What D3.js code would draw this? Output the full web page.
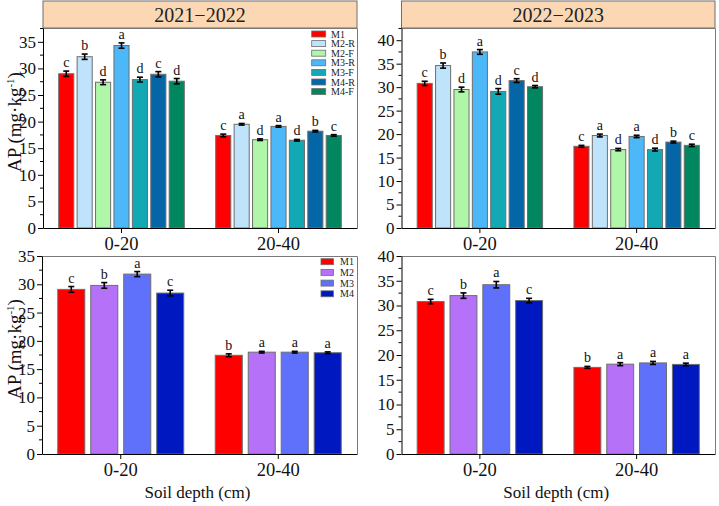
<!DOCTYPE html>
<html>
<head>
<meta charset="utf-8">
<script src="https://cdn.jsdelivr.net/npm/d3@7"></script>
<style>
  body { margin: 0; background: #fff; }
  svg { display: block; }
  svg text { font-family: "Liberation Serif", "Times New Roman", serif; font-weight: normal; }
</style>
</head>
<body>
<svg id="chart" width="719" height="506"></svg>
<script>
// categories
const depths = ["0-20", "20-40"];
const seriesSplit = ["M1", "M2-R", "M2-F", "M3-R", "M3-F", "M4-R", "M4-F"];
const seriesMain = ["M1", "M2", "M3", "M4"];
const colorsSplit = ["#ff0000", "#bfe3fb", "#b0f6a8", "#4db8f8", "#12a8b4", "#0466a6", "#00875f"];
const colorsMain = ["#ff0000", "#b571f7", "#5f70fb", "#0018c0"];

// 2021-2022, split treatments (rows = depths)
const ap2122Split = [[29.0, 32.2, 27.4, 34.3, 27.9, 28.9, 27.6], [17.4, 19.5, 16.6, 19.1, 16.5, 18.2, 17.4]];
const err2122Split = [[0.5, 0.5, 0.45, 0.5, 0.45, 0.5, 0.5], [0.25, 0.15, 0.15, 0.15, 0.15, 0.15, 0.15]];
const sig2122Split = [["c", "b", "d", "a", "d", "c", "d"], ["c", "a", "d", "a", "d", "b", "c"]];

// 2022-2023, split treatments
const ap2223Split = [[30.8, 34.6, 29.5, 37.5, 29.1, 31.4, 30.1], [17.4, 19.7, 16.7, 19.5, 16.7, 18.3, 17.6]];
const err2223Split = [[0.45, 0.55, 0.5, 0.5, 0.6, 0.4, 0.25], [0.2, 0.3, 0.25, 0.25, 0.3, 0.2, 0.25]];
const sig2223Split = [["c", "b", "d", "a", "d", "c", "d"], ["c", "a", "d", "a", "d", "b", "c"]];

// 2021-2022, main treatments
const ap2122Main = [[29.1, 29.8, 31.8, 28.45], [17.45, 18.0, 18.0, 17.9]];
const err2122Main = [[0.5, 0.5, 0.45, 0.5], [0.25, 0.15, 0.15, 0.15]];
const sig2122Main = [["c", "b", "a", "c"], ["b", "a", "a", "a"]];

// 2022-2023, main treatments
const ap2223Main = [[30.8, 32.0, 34.2, 31.0], [17.5, 18.15, 18.4, 18.1]];
const err2223Main = [[0.45, 0.55, 0.65, 0.45], [0.2, 0.3, 0.3, 0.25]];
const sig2223Main = [["c", "b", "a", "c"], ["b", "a", "a", "a"]];

const yTicksA = [0, 5, 10, 15, 20, 25, 30, 35];
const yTicksB = [0, 5, 10, 15, 20, 25, 30, 35, 40];

const panels = [
  { x0: 43, x1: 357, y0: 28, y1: 228, yMax: 37.6, ticks: yTicksA, title: "2021\u22122022",
    series: seriesSplit, colors: colorsSplit, vals: ap2122Split, errs: err2122Split, sig: sig2122Split,
    yLabel: true, legend: { x: 311.7, y: 34, w: 14, h: 6, dy: 9.6, tx: 331 } },
  { x0: 401.5, x1: 715, y0: 28, y1: 228, yMax: 42.6, ticks: yTicksB, title: "2022\u22122023",
    series: seriesSplit, colors: colorsSplit, vals: ap2223Split, errs: err2223Split, sig: sig2223Split },
  { x0: 42, x1: 357, y0: 256, y1: 454, yMax: 35, ticks: yTicksA,
    series: seriesMain, colors: colorsMain, vals: ap2122Main, errs: err2122Main, sig: sig2122Main,
    yLabel: true, xLabel: true, legend: { x: 321, y: 261.7, w: 12.5, h: 6, dy: 10.7, tx: 340 } },
  { x0: 401.5, x1: 715, y0: 256, y1: 454, yMax: 40, ticks: yTicksB,
    series: seriesMain, colors: colorsMain, vals: ap2223Main, errs: err2223Main, sig: sig2223Main,
    xLabel: true }
];

const svg = d3.select("#chart");

panels.forEach(p => {
  const g = svg.append("g");
  const x = d3.scaleBand().domain(depths).range([p.x0, p.x1]).padding(0);
  const bw = x.bandwidth();
  const inner = d3.scaleBand().domain(p.series)
    .range([bw * 0.1, bw * 0.9]).paddingInner(0.18).paddingOuter(0);
  const y = d3.scaleLinear().domain([0, p.yMax]).range([p.y1, p.y0]);

  // header strip
  if (p.title) {
    g.append("rect").attr("x", p.x0).attr("y", 1).attr("width", p.x1 - p.x0).attr("height", p.y0 - 1)
      .attr("fill", "#fbd7b4").attr("stroke", "#6f6f6f").attr("stroke-width", 1);
    g.append("text").attr("x", (p.x0 + p.x1) / 2).attr("y", 22).attr("text-anchor", "middle")
      .attr("font-size", 20).attr("fill", "#222").text(p.title);
  }

  // frame top / right
  g.append("path").attr("d", `M${p.x0},${p.y0 + 0.5}H${p.x1 + 0.5}V${p.y1}`)
    .attr("fill", "none").attr("stroke", "#7a7a7a").attr("stroke-width", 1);

  // bars
  p.vals.forEach((row, di) => {
    const gx = x(depths[di]);
    row.forEach((v, si) => {
      const bx = gx + inner(p.series[si]);
      const cx = bx + inner.bandwidth() / 2;
      const e = p.errs[di][si];
      g.append("rect").attr("x", bx).attr("y", y(v)).attr("width", inner.bandwidth())
        .attr("height", y(0) - y(v)).attr("fill", p.colors[si])
        .attr("stroke", "#6e6e6e").attr("stroke-width", 1);
      g.append("line").attr("x1", cx).attr("x2", cx).attr("y1", y(v - e)).attr("y2", y(v + e))
        .attr("stroke", "#000").attr("stroke-width", 1.6);
      [v - e, v + e].forEach(t => {
        g.append("line").attr("x1", cx - 3).attr("x2", cx + 3).attr("y1", y(t)).attr("y2", y(t))
          .attr("stroke", "#000").attr("stroke-width", 1.6);
      });
      g.append("text").attr("x", cx).attr("y", y(v + e) - 4).attr("text-anchor", "middle")
        .attr("font-size", 14).attr("fill", "#111").text(p.sig[di][si]);
    });
  });

  // y axis
  const yAxis = d3.axisLeft(y).tickValues(p.ticks).tickSize(5).tickPadding(2).tickSizeOuter(0);
  const ya = g.append("g").attr("transform", `translate(${p.x0},0)`).call(yAxis)
    .attr("font-family", null).attr("font-size", null);
  ya.selectAll("text").attr("font-size", 17).attr("fill", "#111");
  ya.select(".domain").attr("stroke", "#000");
  const minor = d3.range(2.5, p.yMax, 5);
  ya.selectAll(".minor").data(minor).enter().append("line").attr("class", "minor")
    .attr("x1", 0).attr("x2", -3).attr("y1", d => y(d)).attr("y2", d => y(d)).attr("stroke", "#000");

  // x axis
  const xAxis = d3.axisBottom(x).tickSize(5).tickPadding(4).tickSizeOuter(0);
  const xa = g.append("g").attr("transform", `translate(0,${p.y1})`).call(xAxis)
    .attr("font-family", null).attr("font-size", null);
  xa.selectAll("text").attr("font-size", 18.5).attr("fill", "#111");
  xa.select(".domain").attr("stroke", "#000");

  if (p.yLabel) {
    const cy = (p.y0 + p.y1) / 2 - 6;
    const t = g.append("text").attr("transform", `translate(21,${cy}) rotate(-90)`)
      .attr("text-anchor", "middle").attr("font-size", 19).attr("fill", "#111");
    t.append("tspan").text("AP (mg\u00b7kg");
    t.append("tspan").attr("font-size", 11).attr("dy", -7).text("-1");
    t.append("tspan").attr("dy", 7).text(")");
  }
  if (p.xLabel) {
    g.append("text").attr("x", (p.x0 + p.x1) / 2 - 2).attr("y", p.y1 + 44).attr("text-anchor", "middle")
      .attr("font-size", 17).attr("fill", "#111").text("Soil depth (cm)");
  }

  if (p.legend) {
    const L = p.legend;
    p.series.forEach((s, i) => {
      const cy = L.y + i * L.dy;
      g.append("rect").attr("x", L.x).attr("y", cy - L.h / 2).attr("width", L.w).attr("height", L.h)
        .attr("fill", p.colors[i]).attr("stroke", "#6e6e6e").attr("stroke-width", 0.8);
      g.append("text").attr("x", L.tx).attr("y", cy + 3.5).attr("font-size", 10).attr("fill", "#222").text(s);
    });
  }
});
</script>
</body>
</html>
